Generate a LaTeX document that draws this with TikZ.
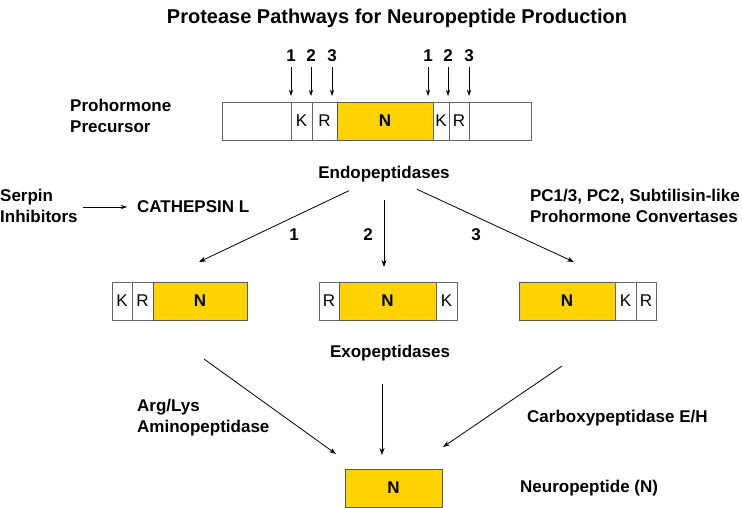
\documentclass[tikz,border=0pt]{standalone}
\usepackage{fontspec}
\setmainfont{Liberation Sans}
\usetikzlibrary{arrows.meta}

\definecolor{pepgold}{HTML}{FFD200}
\definecolor{segline}{HTML}{666666}

\tikzstyle{seg}=[draw=segline,line width=0.8pt,rectangle,minimum height=38pt,inner sep=0pt,outer sep=0pt,font=\fontsize{17}{20}\selectfont]
\tikzstyle{core}=[seg,fill=pepgold,draw=black!65,font=\bfseries\fontsize{17}{20}\selectfont]
\tikzstyle{txt}=[inner sep=0pt,align=left,font=\bfseries\fontsize{17}{21}\selectfont]
\tikzstyle{arr}=[-{Stealth[length=7pt,width=5pt]},line width=0.8pt]

\begin{document}
\begin{tikzpicture}[x=1pt,y=-1pt]
\useasboundingbox (0,0) rectangle (742,508);

\node[txt,font=\bfseries\fontsize{20}{24}\selectfont] (title) at (397,18) {Protease Pathways for Neuropeptide Production};

% prohormone precursor
\node[txt,anchor=west] (prohormone) at (70,116) {Prohormone\\Precursor};
\node[seg,minimum width=69pt] (pre-blank-1) at (256.5,121) {};
\node[seg,minimum width=21pt] (pre-k-1) at (301.5,121) {K};
\node[seg,minimum width=25pt] (pre-r-1) at (324.5,121) {R};
\node[core,minimum width=96pt] (pre-n) at (385,121) {N};
\node[seg,minimum width=16pt] (pre-k-2) at (441,121) {K};
\node[seg,minimum width=20pt] (pre-r-2) at (459,121) {R};
\node[seg,minimum width=62pt] (pre-blank-2) at (500,121) {};

% cleavage sites
\node[txt] (cut-1) at (291,56) {1};
\node[txt] (cut-2) at (311,56) {2};
\node[txt] (cut-3) at (332,56) {3};
\node[txt] (cut-4) at (428,56) {1};
\node[txt] (cut-5) at (448,56) {2};
\node[txt] (cut-6) at (469,56) {3};
\foreach \c in {1,...,6}
  \draw[arr,-{Stealth[length=6pt,width=4pt]},line width=0.6pt,shorten <=5pt,shorten >=6pt] (cut-\c.south) -- (cut-\c.south |- pre-n.north);

% endopeptidases
\node[txt] (endo) at (384,174) {Endopeptidases};
\node[txt,anchor=west] (serpin) at (0,206) {Serpin\\Inhibitors};
\node[txt,anchor=west] (cathepsin) at (137,207) {CATHEPSIN L};
\node[txt,anchor=east] (pc) at (740,206) {PC1/3, PC2, Subtilisin-like\\Prohormone Convertases};
\draw[arr,-{Stealth[length=6pt,width=4pt]},line width=0.6pt,shorten <=5pt,shorten >=10pt] (serpin.east |- cathepsin.west) -- (cathepsin.west);

\coordinate (endo-tip-1) at (199,262);
\coordinate (endo-tip-2) at (384,267);
\coordinate (endo-tip-3) at (574,262);
\draw[arr,shorten <=20pt] (endo) -- (endo-tip-1);
\draw[arr,shorten <=18pt] (endo) -- (endo-tip-2);
\draw[arr,shorten <=17pt] (endo) -- (endo-tip-3);
\node[txt] (step-1) at (294,235) {1};
\node[txt] (step-2) at (368,235) {2};
\node[txt] (step-3) at (476,235) {3};

% intermediates after cleavage 1
\node[seg,minimum width=20pt] (left-k) at (122,301) {K};
\node[seg,minimum width=21pt] (left-r) at (142.5,301) {R};
\node[core,minimum width=94pt] (left-n) at (200,301) {N};

% intermediates after cleavage 2
\node[seg,minimum width=20pt] (mid-r) at (329,301) {R};
\node[core,minimum width=97pt] (mid-n) at (387.5,301) {N};
\node[seg,minimum width=21pt] (mid-k) at (446.5,301) {K};

% intermediates after cleavage 3
\node[core,minimum width=96pt] (right-n) at (567,301) {N};
\node[seg,minimum width=21pt] (right-k) at (625.5,301) {K};
\node[seg,minimum width=20pt] (right-r) at (646,301) {R};

% exopeptidases
\node[txt] (exo) at (390,353) {Exopeptidases};
\node[txt,anchor=west] (amino) at (137,418) {Arg/Lys\\Aminopeptidase};
\node[txt,anchor=west] (carboxy) at (527,418) {Carboxypeptidase E/H};

\coordinate (exo-start-1) at (204,359);
\coordinate (exo-start-2) at (382,384);
\coordinate (exo-start-3) at (562,366);
\coordinate (exo-tip-1) at (336,454);
\coordinate (exo-tip-2) at (382,455);
\coordinate (exo-tip-3) at (443,447);
\draw[arr] (exo-start-1) -- (exo-tip-1);
\draw[arr] (exo-start-2) -- (exo-tip-2);
\draw[arr] (exo-start-3) -- (exo-tip-3);

% final product
\node[core,minimum width=97pt] (neuro) at (393.5,488) {N};
\node[txt,anchor=west] (neuro-label) at (520,488) {Neuropeptide (N)};

\end{tikzpicture}
\end{document}
